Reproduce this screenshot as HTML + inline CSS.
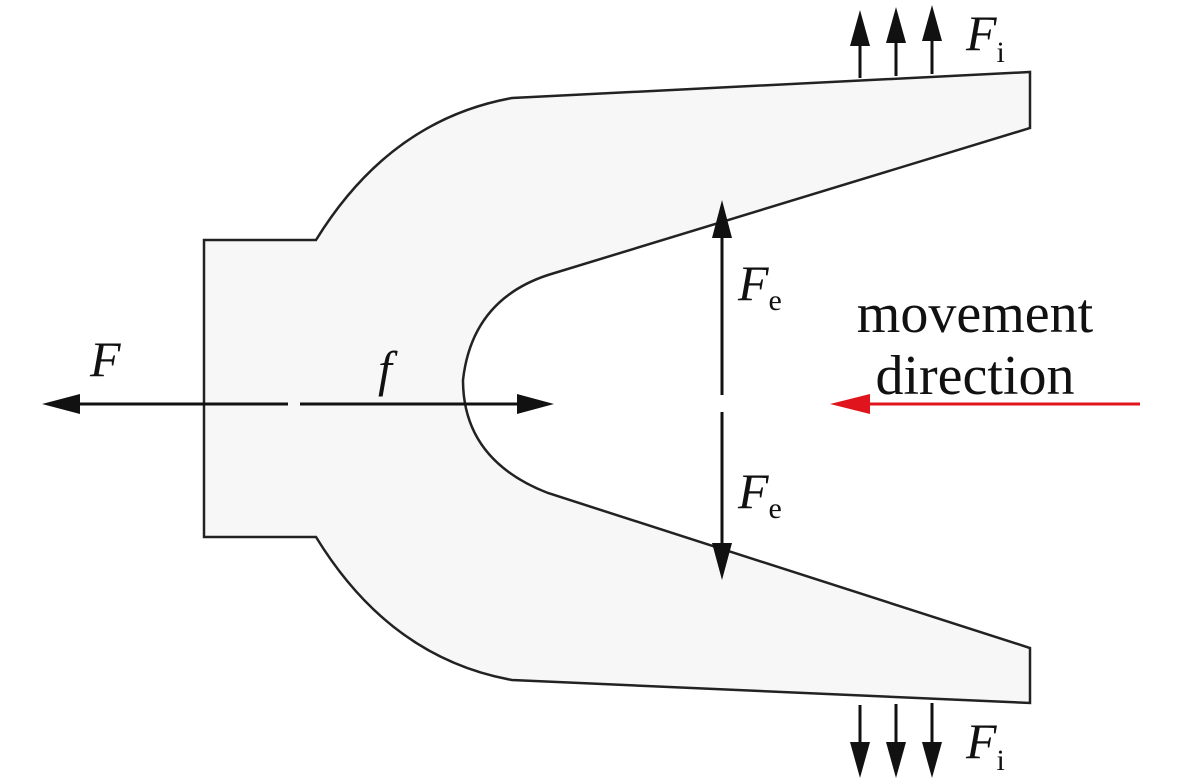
<!DOCTYPE html>
<html><head><style>body{margin:0;background:#fff}svg{display:block}</style></head><body>
<svg width="1181" height="783" xmlns="http://www.w3.org/2000/svg">
<path d="M204,240 L316,240 Q390,120 512,98 L1030,72 L1030,128 L548,275 Q472,300 463,380 Q463,460 548,493 L1030,648 L1030,703 L512,680 Q390,658 316,537 L204,537 Z" fill="#f7f7f7" stroke="#222" stroke-width="2.5"/>
<g stroke="#111" stroke-width="3">
<line x1="80" y1="404" x2="288" y2="404"/>
<line x1="300" y1="404" x2="518" y2="404"/>
<line x1="722" y1="236" x2="722" y2="395"/>
<line x1="722" y1="412" x2="722" y2="545"/>
<line x1="860" y1="44" x2="860" y2="78"/>
<line x1="896" y1="40" x2="896" y2="76"/>
<line x1="932" y1="38" x2="932" y2="74"/>
<line x1="860" y1="705" x2="860" y2="745"/>
<line x1="896" y1="704" x2="896" y2="745"/>
<line x1="932" y1="703" x2="932" y2="745"/>
</g>
<g fill="#111">
<polygon points="42,404 80,394 80,414"/>
<polygon points="554,404 517,394 517,414"/>
<polygon points="722,200 712,238 732,238"/>
<polygon points="722,580 712,543 732,543"/>
<polygon points="860,10 850,46 870,46"/>
<polygon points="896,7 886,43 906,43"/>
<polygon points="932,5 922,41 942,41"/>
<polygon points="860,778 850,742 870,742"/>
<polygon points="896,778 886,742 906,742"/>
<polygon points="932,778 922,742 942,742"/>
</g>
<line x1="870" y1="404" x2="1140" y2="404" stroke="#e0141c" stroke-width="3"/>
<polygon points="830,404 870,394 870,414" fill="#e0141c"/>
<g font-family="Liberation Serif, serif" fill="#111">
<text x="90" y="376" font-size="50" font-style="italic">F</text>
<text x="378" y="386" font-size="50" font-style="italic">f</text>
<text x="738" y="300" font-size="50" font-style="italic">F<tspan font-style="normal" font-size="30" dy="10">e</tspan></text>
<text x="738" y="508" font-size="50" font-style="italic">F<tspan font-style="normal" font-size="30" dy="10">e</tspan></text>
<text x="966" y="50" font-size="50" font-style="italic">F<tspan font-style="normal" font-size="30" dy="12">i</tspan></text>
<text x="966" y="758" font-size="50" font-style="italic">F<tspan font-style="normal" font-size="30" dy="12">i</tspan></text>
<text x="975" y="332" font-size="56" text-anchor="middle">movement</text>
<text x="975" y="394" font-size="56" text-anchor="middle">direction</text>
</g>
</svg>
</body></html>
